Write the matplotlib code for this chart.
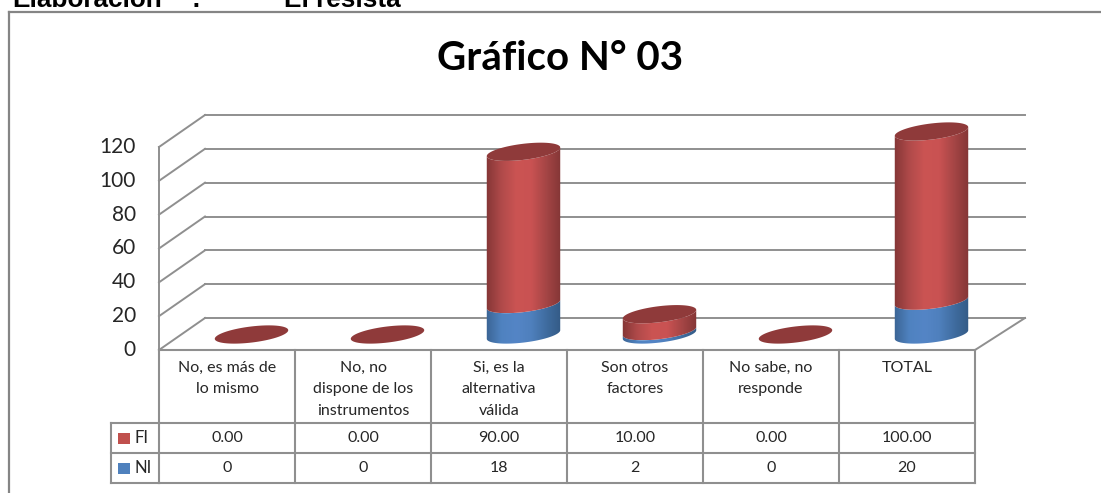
import numpy as np
import matplotlib
matplotlib.use("Agg")
import matplotlib.pyplot as plt
from matplotlib.colors import LinearSegmentedColormap
from matplotlib.patches import Polygon

categories = ["No, es más de\nlo mismo", "No, no\ndispone de los\ninstrumentos", "Si, es la\nalternativa\nválida",
              "Son otros\nfactores", "No sabe, no\nresponde", "TOTAL"]
fi_values = [0.0, 0.0, 90.0, 10.0, 0.0, 100.0]
ni_values = [0, 0, 18, 2, 0, 20]
y_ticks = [0, 20, 40, 60, 80, 100, 120]
title = "Gráfico N° 03"
header = ["Elaboración", ":", "El resista"]

W, H = 1101, 493
X0, Y0 = 159, 350      # pixel of category 0 / value 0
PX_CAT = 136.0
PX_VAL = 203 / 120
DEPTH_X, DEPTH_Y = 46, 32
GREY = "#8f8f8f"
TEXT = "#262626"

fig = plt.figure(figsize=(W / 100, H / 100), dpi=100)
ax = fig.add_axes([0, 0, 1, 1])
ax.axis("off")
ax.set_xlim(-X0 / PX_CAT, (W - X0) / PX_CAT)
ax.set_ylim((Y0 - H) / PX_VAL, Y0 / PX_VAL)


def dx(px):
    return px / PX_CAT


def dy(px):
    return px / PX_VAL


def line(xs, ys, lw=1.4, color=GREY, z=1):
    ax.plot(xs, ys, color=color, lw=lw, solid_capstyle="projecting", zorder=z)


# outer frame (runs off the right and bottom) and clipped caption above it
line([dx(9 - X0), dx(9 - X0)], [dy(Y0 - 12), dy(Y0 - 500)], lw=1.6, color="#858585")
line([dx(9 - X0), dx(1110 - X0)], [dy(Y0 - 12), dy(Y0 - 12)], lw=1.6, color="#858585")
for txt, px in zip(header, [12, 191, 284]):
    ax.text(dx(px - X0), dy(Y0 - 7), txt, family="Liberation Sans", weight="bold", fontsize=18.8, color="black", va="baseline", clip_on=True)
ax.text(dx(560 - X0), dy(Y0 - 58), title, family="Lato", weight="bold", fontsize=29, color="black", ha="center", va="center")

# walls and gridlines
n = len(categories)
for v in y_ticks:
    line([dx(DEPTH_X), n + dx(DEPTH_X + 4)], [v + dy(DEPTH_Y)] * 2)
    line([0, dx(DEPTH_X)], [v, v + dy(DEPTH_Y)])
    ax.text(dx(-23), v, str(v), family="Lato", fontsize=15, color=TEXT, ha="right", va="center")
line([0, 0], [0, 120])
line([n, n + dx(DEPTH_X + 4)], [0, dy(DEPTH_Y)])

# data table
row_y = [0, dy(-73), dy(-103), dy(-133)]
for y in row_y:
    line([0, n], [y, y], lw=1.5, z=2)
for y in row_y[1:]:
    line([dx(-48), 0], [y, y], lw=1.5, z=2)
for i in range(n + 1):
    line([i, i], [0, row_y[3]], lw=1.5, z=2)
line([dx(-48)] * 2, [row_y[1], row_y[3]], lw=1.5, z=2)

red_cmap = LinearSegmentedColormap.from_list("red", ["#843636", "#b04a4a", "#cb5453", "#c95252", "#a44545", "#823535"])
blue_cmap = LinearSegmentedColormap.from_list("blue", ["#3b6494", "#4f82c0", "#5485c6", "#4f80bd", "#3f6c9f", "#335a85"])
TOP = "#8f3a3a"
A, B, TILT = 37, 8, np.radians(7)


def ell(cx, v, t):
    # tilted rim ellipse, pixel sizes turned into data offsets
    px = A * np.cos(t)
    py = B * np.sin(t)
    return cx + dx(px * np.cos(TILT) - py * np.sin(TILT)), v + dy(px * np.sin(TILT) + py * np.cos(TILT))


def cylinder(cx, v0, v1, cmap, z):
    t_low = np.linspace(np.pi, 2 * np.pi, 60)
    x0, y0 = ell(cx, v0, t_low)
    x1, y1 = ell(cx, v1, t_low[::-1])
    pts = np.column_stack([np.r_[x0, x1], np.r_[y0, y1]])
    clip = Polygon(pts, closed=True, transform=ax.transData, fc="none", ec="none")
    ax.add_patch(clip)
    grad = np.linspace(0, 1, 128).reshape(1, -1)
    im = ax.imshow(grad, cmap=cmap, aspect="auto", zorder=z, extent=[cx - dx(A + 1), cx + dx(A + 1), min(y0.min(), y1.min()), max(y0.max(), y1.max())])
    im.set_clip_path(clip)


for i in range(n):
    cx = i + 0.5 + dx(DEPTH_X / 2 + 1.5)
    base = dy(DEPTH_Y / 2 - 0.5)
    z = 5 + i
    ni, fi = ni_values[i], fi_values[i]
    if ni > 0:
        cylinder(cx, base, base + ni, blue_cmap, z)
    if fi > 0:
        cylinder(cx, base + ni, base + ni + fi, red_cmap, z + 0.1)
    t = np.linspace(0, 2 * np.pi, 100)
    ex, ey = ell(cx, base + ni + fi, t)
    ax.fill(ex, ey, color=TOP, zorder=z + 0.2, lw=0)

    ax.text(i + 0.5, dy(-10.5), categories[i], family="Lato", fontsize=11.5, color=TEXT, ha="center", va="top", linespacing=1.7)
    ax.text(i + 0.5, (row_y[1] + row_y[2]) / 2, f"{fi:.2f}", family="Lato", fontsize=11.5, color=TEXT, ha="center", va="center")
    ax.text(i + 0.5, (row_y[2] + row_y[3]) / 2, str(ni), family="Lato", fontsize=11.5, color=TEXT, ha="center", va="center")

# legend keys inside the table
for y0, y1, name, col in [(row_y[1], row_y[2], "FI", "#c0504d"), (row_y[2], row_y[3], "NI", "#4f81bd")]:
    mid = (y0 + y1) / 2
    ax.add_patch(plt.Rectangle((dx(-41), mid - dy(5.5)), dx(12), dy(11), color=col, lw=0))
    ax.text(dx(-25), mid, name, family="Lato", fontsize=12, color=TEXT, ha="left", va="center")

ax.set_xlim(-X0 / PX_CAT, (W - X0) / PX_CAT)
ax.set_ylim((Y0 - H) / PX_VAL, Y0 / PX_VAL)
fig.savefig("out.png", dpi=100)
